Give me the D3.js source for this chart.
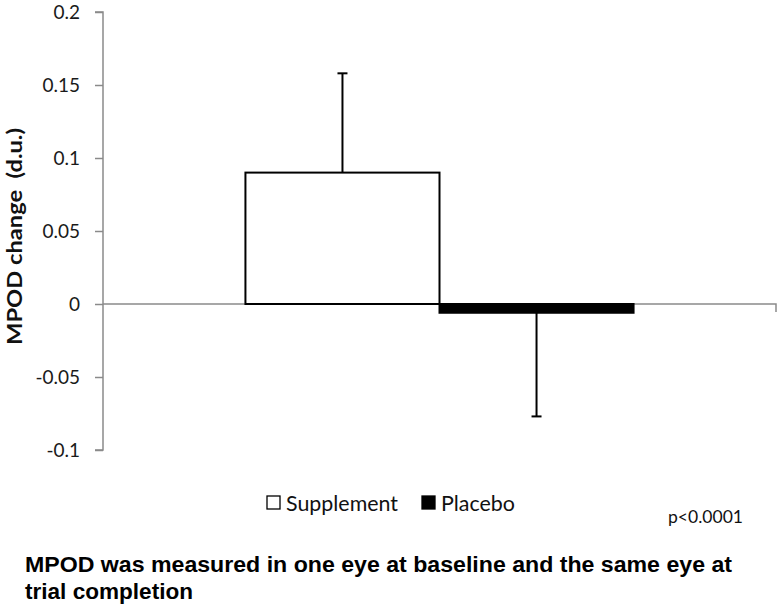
<!DOCTYPE html>
<html>
<head>
<meta charset="utf-8">
<script src="https://cdn.jsdelivr.net/npm/d3@7"></script>
<style>
  html, body { margin: 0; padding: 0; background: #fff; }
  svg { display: block; }
</style>
</head>
<body>
<svg id="chart" width="780" height="607"></svg>
<script>
// ---- data ----
const categories = ["MPOD"];
const seriesNames = ["Supplement", "Placebo"];
const seriesValues = [0.090, -0.006];
const seriesErrors = [0.068, 0.071];
const tickValues = [-0.1, -0.05, 0, 0.05, 0.1, 0.15, 0.2];
const tickLabels = ["-0.1", "-0.05", "0", "0.05", "0.1", "0.15", "0.2"];
const yTitle = "MPOD change  (d.u.)";
const pText = "p<0.0001";
const captionLines = ["MPOD was measured in one eye at baseline and the same eye at", "trial completion"];

// ---- layout ----
const svg = d3.select("#chart");
const plotL = 103, plotR = 776, plotT = 12, plotB = 450;
const bodyFont = "Lato, 'Open Sans', sans-serif";

const y = d3.scaleLinear().domain([-0.1, 0.2]).range([plotB, plotT]);
const x0 = d3.scaleBand().domain(categories).range([plotL, plotR]).paddingInner(0).paddingOuter(0.367);
const x1 = d3.scaleBand().domain(seriesNames).range([0, x0.bandwidth()]).padding(0);

const axisColor = "#8a8a8a";

// y axis
const yAxis = d3.axisLeft(y)
  .tickValues(tickValues)
  .tickFormat((d, i) => tickLabels[i])
  .tickSize(8)
  .tickPadding(15);
const gy = svg.append("g").attr("transform", `translate(${plotL},0)`).call(yAxis);
gy.select(".domain").attr("stroke", axisColor).attr("stroke-width", 1.5)
  .attr("d", `M-8,${y(0.2)}H0V${y(-0.1)}H-8`);
gy.selectAll(".tick line").attr("stroke", axisColor).attr("stroke-width", 1.5);
gy.selectAll(".tick text").attr("fill", "#1a1a1a").style("font-family", bodyFont).style("font-size", "19px");

// zero baseline (category axis)
svg.append("path")
  .attr("d", `M${plotL},${y(0)}H${plotR}V${y(0) + 8}`)
  .attr("fill", "none").attr("stroke", axisColor).attr("stroke-width", 1.5);

// bars
const data = seriesNames.map((s, i) => ({ name: s, value: seriesValues[i], err: seriesErrors[i], cat: categories[0] }));
const gBars = svg.append("g");
gBars.selectAll("rect").data(data).join("rect")
  .attr("x", d => x0(d.cat) + x1(d.name))
  .attr("width", x1.bandwidth())
  .attr("y", d => Math.min(y(d.value), y(0)))
  .attr("height", d => Math.abs(y(d.value) - y(0)))
  .attr("fill", (d, i) => i === 0 ? "#fff" : "#000")
  .attr("stroke", "#000")
  .attr("stroke-width", 2);

// error bars (one-sided, away from zero)
const capW = 10;
data.forEach(d => {
  const cx = x0(d.cat) + x1(d.name) + x1.bandwidth() / 2;
  const end = d.value >= 0 ? d.value + d.err : d.value - d.err;
  svg.append("line").attr("x1", cx).attr("x2", cx).attr("y1", y(d.value)).attr("y2", y(end))
    .attr("stroke", "#000").attr("stroke-width", 2);
  svg.append("line").attr("x1", cx - capW / 2).attr("x2", cx + capW / 2).attr("y1", y(end)).attr("y2", y(end))
    .attr("stroke", "#000").attr("stroke-width", 2);
});

// y title
svg.append("text")
  .attr("transform", `translate(22,${345}) rotate(-90)`)
  .attr("text-anchor", "start")
  .style("font-family", bodyFont).style("font-weight", "bold").style("font-size", "20px")
  .style("white-space", "pre")
  .attr("textLength", 217).attr("lengthAdjust", "spacingAndGlyphs")
  .attr("fill", "#111")
  .text(yTitle);

// legend
const legendX = [267, 422];
const legendW = [112, 74];
const gLeg = svg.append("g");
data.forEach((d, i) => {
  gLeg.append("rect").attr("x", legendX[i]).attr("y", 496).attr("width", 13).attr("height", 13)
    .attr("fill", i === 0 ? "#fff" : "#000").attr("stroke", "#000").attr("stroke-width", 1.3);
  gLeg.append("text").attr("x", legendX[i] + 19).attr("y", 511)
    .style("font-family", bodyFont).style("font-size", "21px").attr("fill", "#111")
    .attr("textLength", legendW[i]).attr("lengthAdjust", "spacingAndGlyphs")
    .text(d.name);
});

// p-value
svg.append("text").attr("x", 668).attr("y", 523)
  .style("font-family", bodyFont).style("font-size", "17px").attr("fill", "#111")
  .attr("textLength", 75).attr("lengthAdjust", "spacingAndGlyphs")
  .text(pText);

// caption
const capWidths = [707, 168];
captionLines.forEach((t, i) => {
  svg.append("text").attr("x", 25).attr("y", 572 + i * 27)
    .style("font-family", "'Liberation Sans', Arial, sans-serif")
    .style("font-weight", "bold").style("font-size", "22px").attr("fill", "#000")
    .attr("textLength", capWidths[i]).attr("lengthAdjust", "spacingAndGlyphs")
    .text(t);
});
</script>
</body>
</html>
